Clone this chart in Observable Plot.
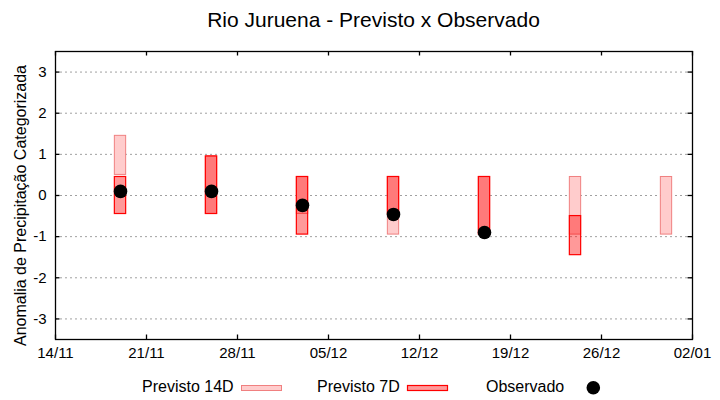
<!DOCTYPE html>
<html>
<head>
<meta charset="utf-8">
<script src="https://cdn.jsdelivr.net/npm/d3@7"></script>
<script src="https://cdn.jsdelivr.net/npm/@observablehq/plot@0.6"></script>
<style>
  html, body { margin: 0; padding: 0; background: #fff; }
  #wrap { position: relative; width: 720px; height: 400px; font-family: "Liberation Sans", Arial, sans-serif; color: #000; }
  #title { position: absolute; left: 55px; width: 637px; top: 9px; font-size: 21px; line-height: 21px; text-align: center; }
  #chart { position: absolute; left: 0; top: 40px; }
  #legend { position: absolute; left: 0; top: 370px; width: 720px; height: 30px; }
</style>
</head>
<body>
<div id="wrap">
  <div id="title">Rio Juruena - Previsto x Observado</div>
  <div id="chart"></div>
  <svg id="legend" width="720" height="30" font-family="Liberation Sans, Arial, sans-serif" font-size="16">
    <text x="142" y="22">Previsto 14D</text>
    <rect x="241.5" y="15.5" width="40" height="5" fill="#ffcccc" stroke="#f08080" stroke-width="1"></rect>
    <text x="317" y="22">Previsto 7D</text>
    <rect x="407.5" y="15.5" width="40" height="5" fill="#ff9999" stroke="#ff0000" stroke-width="1.2"></rect>
    <text x="486" y="22">Observado</text>
    <circle cx="593.3" cy="17.7" r="6.8" fill="#000"></circle>
  </svg>
</div>
<script>
// ---- data ----
const dates = ["2023-11-19", "2023-11-26", "2023-12-03", "2023-12-10", "2023-12-17", "2023-12-24", "2023-12-31"];
const prev14Low  = [0.5, -0.45, -0.45, -0.95, -0.95, -0.95, -0.95];
const prev14High = [1.45, 0.95, 0.45, 0.45, 0.45, 0.45, 0.45];
const prev7Low   = [-0.45, -0.45, -0.95, -0.45, -0.95, -1.45, null];
const prev7High  = [0.45, 0.95, 0.45, 0.45, 0.45, -0.5, null];
const observed   = [0.1, 0.1, -0.24, -0.46, -0.9, null, null];
const xTickLabels = ["2023-11-14", "2023-11-21", "2023-11-28", "2023-12-05", "2023-12-12", "2023-12-19", "2023-12-26", "2024-01-02"];
const yTicks = [-3, -2, -1, 0, 1, 2, 3];
const yDomain = [-3.5, 3.5];
const yLabel = "Anomalia de Precipitação Categorizada";

// ---- build tables ----
const DAY = 864e5;
const parse = s => new Date(s + "T00:00:00Z");
const rows = dates.map((d, i) => ({
  date: parse(d),
  x1: new Date(parse(d).getTime() - 0.5 * DAY),
  x2: new Date(parse(d).getTime() + 0.5 * DAY),
  p14lo: prev14Low[i], p14hi: prev14High[i],
  p7lo: prev7Low[i], p7hi: prev7High[i],
  obs: observed[i]
}));
const xTicks = xTickLabels.map(parse);
const rows14 = rows.filter(r => r.p14lo != null);
const rows7 = rows.filter(r => r.p7lo != null);
const rowsObs = rows.filter(r => r.obs != null);

const W = 720, H = 330, mL = 55, mR = 28, mT = 11, mB = 31;
const innerW = W - mL - mR, innerH = H - mT - mB;
const tickLen = 4.5;

const chart = Plot.plot({
  width: W, height: H,
  marginLeft: mL, marginRight: mR, marginTop: mT, marginBottom: mB,
  style: { fontFamily: "Liberation Sans, Arial, sans-serif", fontSize: "15px", color: "#000", background: "#fff" },
  x: { type: "utc", domain: [xTicks[0], xTicks[xTicks.length - 1]] },
  y: { domain: yDomain },
  marks: [
    Plot.ruleY(yTicks, { stroke: "#a0a0a0", strokeWidth: 1, strokeDasharray: "2,3" }),
    Plot.rect(rows14, { x1: "x1", x2: "x2", y1: "p14lo", y2: "p14hi", fill: "#ffcccc", stroke: "#f08080", strokeWidth: 1, insetLeft: 0.85, insetRight: 0.85 }),
    Plot.rect(rows7, { x1: "x1", x2: "x2", y1: "p7lo", y2: "p7hi", fill: "#ff0000", fillOpacity: 0.4, stroke: "#ff0000", strokeWidth: 1.2, insetLeft: 0.85, insetRight: 0.85 }),
    Plot.dot(rowsObs, { x: "date", y: "obs", r: 6.8, fill: "#000", stroke: null }),
    // inward tick marks
    Plot.tickY(yTicks, { y: d => d, stroke: "#000", strokeWidth: 1.3, insetRight: innerW - tickLen }),
    Plot.tickY(yTicks, { y: d => d, stroke: "#000", strokeWidth: 1.3, insetLeft: innerW - tickLen }),
    Plot.tickX(xTicks, { x: d => d, stroke: "#000", strokeWidth: 1.3, insetTop: innerH - tickLen }),
    Plot.tickX(xTicks, { x: d => d, stroke: "#000", strokeWidth: 1.3, insetBottom: innerH - tickLen }),
    Plot.frame({ stroke: "#000", strokeWidth: 1.3 }),
    Plot.axisY({ ticks: yTicks, tickSize: 0, tickPadding: 9, tickFormat: d => String(d), label: null, fill: "#000" }),
    Plot.axisX({ ticks: xTicks, tickSize: 0, tickPadding: 8, tickFormat: d3.utcFormat("%d/%m"), label: null, fill: "#000" }),
    Plot.text([yLabel], { text: d => d, frameAnchor: "left", rotate: -90, dx: -35, dy: 10, fontSize: 16, fill: "#000", textAnchor: "middle" })
  ]
});
document.getElementById("chart").appendChild(chart);
</script>
</body>
</html>
